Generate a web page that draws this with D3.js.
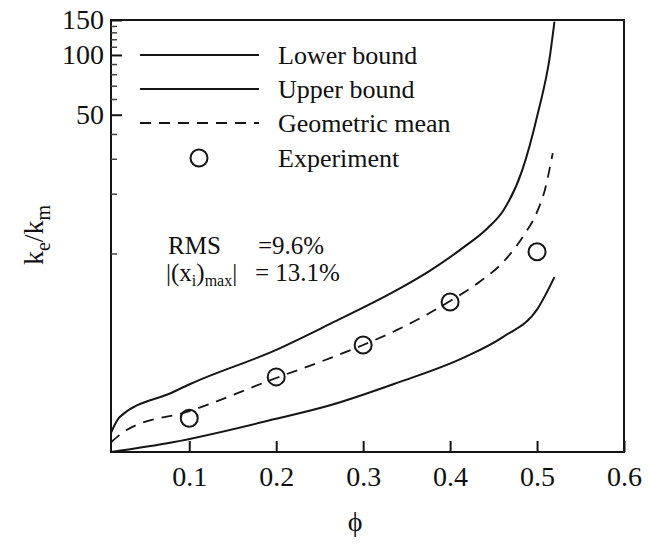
<!DOCTYPE html>
<html>
<head>
<meta charset="utf-8">
<script src="https://cdn.jsdelivr.net/npm/d3@7"></script>
<style>
  body { margin: 0; background: #fff; }
  svg text { font-family: "Liberation Serif", "Times New Roman", serif; fill: #111; }
</style>
</head>
<body>
<div id="chart"></div>
<script>
// values
var lowerPhi = [0.01, 0.081, 0.2, 0.262, 0.339, 0.415, 0.461, 0.501, 0.52];
var lowerVal = [1.0, 1.12, 1.47, 1.72, 2.23, 2.98, 3.8, 5.3, 7.6];

var upperPhi = [0.01, 0.02, 0.081, 0.101, 0.2, 0.262, 0.339, 0.377, 0.415, 0.443, 0.461, 0.483, 0.501, 0.515, 0.52];
var upperVal = [1.25, 1.5, 2.0, 2.2, 3.27, 4.42, 6.55, 8.2, 10.7, 13.4, 16.4, 26.3, 51, 100, 147];

var meanPhi = [0.01, 0.028, 0.101, 0.2, 0.262, 0.3, 0.339, 0.4, 0.434, 0.461, 0.484, 0.5, 0.509, 0.518];
var meanVal = [1.12, 1.29, 1.61, 2.36, 2.97, 3.46, 4.12, 5.76, 7.2, 9.05, 12.2, 16.2, 20.9, 32];

var expPhi = [0.1, 0.2, 0.3, 0.4, 0.5];
var expVal = [1.48, 2.39, 3.46, 5.7, 10.2];

var xTicks = [0.1, 0.2, 0.3, 0.4, 0.5, 0.6];
var yMajor = [50, 100, 150];
var yMinor = [10, 20, 30, 40, 60, 70, 80, 90, 110, 120, 130, 140];

var legendNames = ["Lower bound", "Upper bound", "Geometric mean", "Experiment"];

/*
------------------------
set up svg and scales
------------------------
*/
var width = 651, height = 544;
var plotLeft = 111, plotRight = 624, plotTop = 20, plotBottom = 452;

var svg = d3.select("#chart").append("svg")
  .attr("width", width)
  .attr("height", height);

var x = d3.scaleLinear().domain([0.01, 0.6]).range([plotLeft, plotRight]);
var y = d3.scaleLog().domain([1, 150]).range([plotBottom, plotTop]);

var ink = "#151515";

// frame
svg.append("rect")
  .attr("x", plotLeft).attr("y", plotTop)
  .attr("width", plotRight - plotLeft).attr("height", plotBottom - plotTop)
  .attr("fill", "none")
  .attr("stroke", ink)
  .attr("stroke-width", 2);

// x axis, ticks pointing inward
var xAxis = svg.append("g")
  .attr("transform", "translate(0," + plotBottom + ")")
  .call(d3.axisBottom(x).tickValues(xTicks).tickSizeInner(-11).tickSizeOuter(0).tickPadding(14).tickFormat(d3.format(".1f")));
xAxis.select(".domain").remove();
xAxis.selectAll(".tick line").attr("stroke", ink).attr("stroke-width", 2);
xAxis.selectAll("text").attr("font-size", 28).attr("fill", ink);

// y axis major
var yAxis = svg.append("g")
  .attr("transform", "translate(" + plotLeft + ",0)")
  .call(d3.axisLeft(y).tickValues(yMajor).tickSizeInner(-11).tickSizeOuter(0).tickPadding(7).tickFormat(d3.format("d")));
yAxis.select(".domain").remove();
yAxis.selectAll(".tick line").attr("stroke", ink).attr("stroke-width", 2);
yAxis.selectAll("text").attr("font-size", 28).attr("fill", ink);

// y axis minor
var yAxisMinor = svg.append("g")
  .attr("transform", "translate(" + plotLeft + ",0)")
  .call(d3.axisLeft(y).tickValues(yMinor).tickSizeInner(-6).tickSizeOuter(0).tickFormat(""));
yAxisMinor.select(".domain").remove();
yAxisMinor.selectAll(".tick line").attr("stroke", "#444").attr("stroke-width", 1.5);

// axis titles
svg.append("text")
  .attr("x", 355).attr("y", 531)
  .attr("text-anchor", "middle")
  .attr("font-size", 28)
  .text("\u03d5");

var yTitle = svg.append("text")
  .attr("transform", "translate(43,235) rotate(-90)")
  .attr("text-anchor", "middle")
  .attr("font-size", 28);
yTitle.append("tspan").text("k");
yTitle.append("tspan").attr("font-size", 20).attr("dy", 7).text("e");
yTitle.append("tspan").attr("dy", -7).text("/k");
yTitle.append("tspan").attr("font-size", 20).attr("dy", 7).text("m");

/*
------------------------
curves
------------------------
*/
var curveLine = d3.line()
  .curve(d3.curveMonotoneX)
  .x(function(d) { return x(d[0]); })
  .y(function(d) { return y(d[1]); });

function pairs(a, b) { return a.map(function(v, i) { return [v, b[i]]; }); }

svg.append("path")
  .datum(pairs(lowerPhi, lowerVal))
  .attr("d", curveLine)
  .attr("fill", "none").attr("stroke", ink).attr("stroke-width", 2);

svg.append("path")
  .datum(pairs(upperPhi, upperVal))
  .attr("d", curveLine)
  .attr("fill", "none").attr("stroke", ink).attr("stroke-width", 2);

svg.append("path")
  .datum(pairs(meanPhi, meanVal))
  .attr("d", curveLine)
  .attr("fill", "none").attr("stroke", ink).attr("stroke-width", 1.8)
  .attr("stroke-dasharray", "11,8");

svg.selectAll("circle.exp")
  .data(pairs(expPhi, expVal))
  .enter()
  .append("circle")
  .attr("class", "exp")
  .attr("cx", function(d) { return x(d[0]); })
  .attr("cy", function(d) { return y(d[1]); })
  .attr("r", 8.5)
  .attr("fill", "none").attr("stroke", ink).attr("stroke-width", 2);

/*
------------------------
legend
------------------------
*/
var legendY = [55, 89, 123, 158];
var lg = svg.append("g");
lg.append("line").attr("x1", 140).attr("x2", 259).attr("y1", legendY[0]).attr("y2", legendY[0])
  .attr("stroke", ink).attr("stroke-width", 2);
lg.append("line").attr("x1", 140).attr("x2", 259).attr("y1", legendY[1]).attr("y2", legendY[1])
  .attr("stroke", ink).attr("stroke-width", 2);
lg.append("line").attr("x1", 140).attr("x2", 259).attr("y1", legendY[2]).attr("y2", legendY[2])
  .attr("stroke", ink).attr("stroke-width", 1.8).attr("stroke-dasharray", "11,8");
lg.append("circle").attr("cx", 199).attr("cy", legendY[3]).attr("r", 8.5)
  .attr("fill", "none").attr("stroke", ink).attr("stroke-width", 2);

lg.selectAll("text")
  .data(legendNames)
  .enter()
  .append("text")
  .attr("x", 278)
  .attr("y", function(d, i) { return legendY[i] + 9; })
  .attr("font-size", 26)
  .text(function(d) { return d; });

/*
------------------------
statistics note
------------------------
*/
var note = svg.append("g").attr("font-size", 25);
note.append("text").attr("x", 168).attr("y", 254).text("RMS");
note.append("text").attr("x", 258).attr("y", 254).text("=9.6%");
var t2 = note.append("text").attr("x", 166).attr("y", 281);
t2.append("tspan").text("|(x");
t2.append("tspan").attr("font-size", 16).attr("dy", 5).text("i");
t2.append("tspan").attr("dy", -5).text(")");
t2.append("tspan").attr("font-size", 16).attr("dy", 5).text("max");
t2.append("tspan").attr("dy", -5).text("|");
note.append("text").attr("x", 255).attr("y", 281).text("= 13.1%");
</script>
</body>
</html>
